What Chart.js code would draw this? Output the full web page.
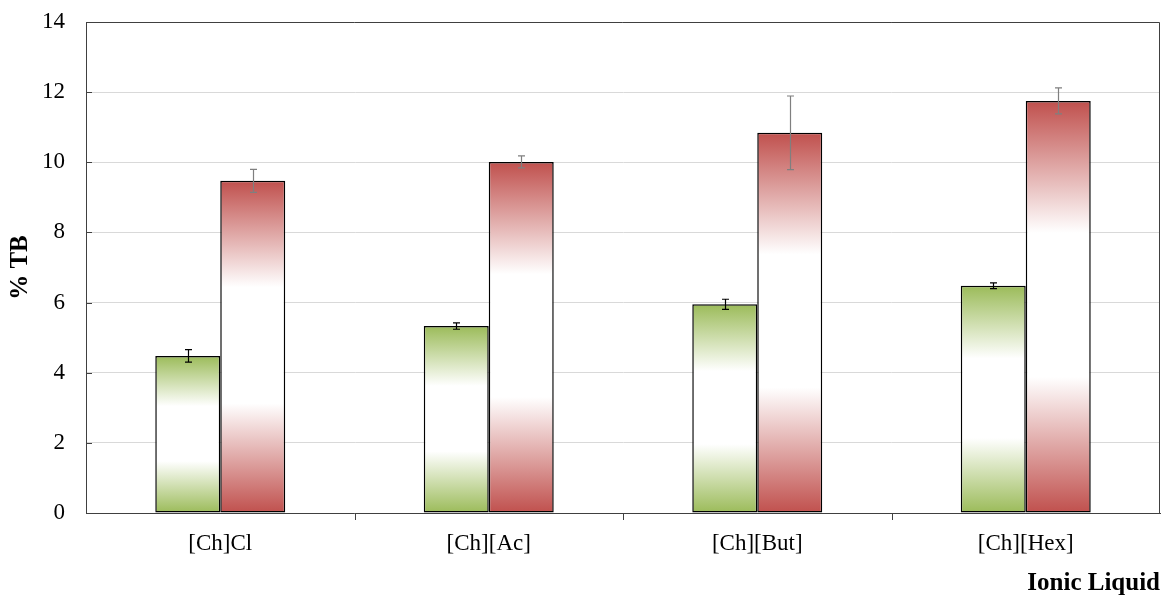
<!DOCTYPE html>
<html>
<head>
<meta charset="utf-8">
<script src="https://cdn.jsdelivr.net/npm/chart.js@4.4.0/dist/chart.umd.min.js"></script>
<style>
  html, body { margin: 0; padding: 0; background: #fff; }
  #wrap { width: 1168px; height: 595px; position: relative; }
</style>
</head>
<body>
<div id="wrap"><canvas id="c"></canvas></div>
<script>
const categories = ['[Ch]Cl', '[Ch][Ac]', '[Ch][But]', '[Ch][Hex]'];
const greenValues = [4.48, 5.33, 5.95, 6.48];
const greenErrors = [0.18, 0.09, 0.145, 0.08];
const redValues = [9.47, 10.01, 10.84, 11.75];
const redErrors = [0.33, 0.17, 1.05, 0.37];
const yMin = 0, yMax = 14, yStep = 2;
const yTitle = '% TB';
const xTitle = 'Ionic Liquid';

const GREEN = '#9bbb59';
const RED = '#c0504d';
const SERIF = '"Liberation Serif", "Times New Roman", serif';

function barGradient(context, color) {
  const chart = context.chart;
  if (context.type !== 'data' || !chart.chartArea || !chart.scales.y) return color;
  const y = chart.scales.y;
  const top = y.getPixelForValue(context.raw);
  const base = y.getPixelForValue(0);
  if (!isFinite(top) || !isFinite(base) || top === base) return color;
  const g = chart.ctx.createLinearGradient(0, top, 0, base);
  g.addColorStop(0, color);
  g.addColorStop(0.32, '#ffffff');
  g.addColorStop(0.67, '#ffffff');
  g.addColorStop(1, color);
  return g;
}

const errorBarsPlugin = {
  id: 'errorBars',
  afterDatasetsDraw(chart) {
    const { ctx, scales } = chart;
    const errs = [greenErrors, redErrors];
    const cols = ['#000000', '#7f7f7f'];
    chart.data.datasets.forEach((ds, di) => {
      const meta = chart.getDatasetMeta(di);
      meta.data.forEach((bar, i) => {
        const v = ds.data[i], e = errs[di][i];
        const yHi = scales.y.getPixelForValue(v + e);
        const yLo = scales.y.getPixelForValue(v - e);
        const x = Math.round(bar.x) + 0.5;
        ctx.save();
        ctx.strokeStyle = cols[di];
        ctx.lineWidth = 1.2;
        ctx.beginPath();
        ctx.moveTo(x, yHi); ctx.lineTo(x, yLo);
        ctx.moveTo(x - 3.5, yHi); ctx.lineTo(x + 3.5, yHi);
        ctx.moveTo(x - 3.5, yLo); ctx.lineTo(x + 3.5, yLo);
        ctx.stroke();
        ctx.restore();
      });
    });
  }
};

const framePlugin = {
  id: 'frame',
  afterDraw(chart) {
    const { ctx, chartArea: a, scales } = chart;
    ctx.save();
    ctx.strokeStyle = '#404040';
    ctx.lineWidth = 1;
    ctx.beginPath();
    ctx.moveTo(a.left, Math.round(a.top) + 0.5);
    ctx.lineTo(Math.round(a.right) - 0.5, Math.round(a.top) + 0.5);
    ctx.lineTo(Math.round(a.right) - 0.5, a.bottom);
    ctx.stroke();
    ctx.beginPath();
    for (let v = yMin; v <= yMax; v += yStep) {
      const py = Math.round(scales.y.getPixelForValue(v)) + 0.5;
      ctx.moveTo(a.left, py); ctx.lineTo(a.left + 6, py);
    }
    const n = categories.length;
    for (let i = 0; i < n - 1; i++) {
      const px = Math.round((scales.x.getPixelForValue(i) + scales.x.getPixelForValue(i + 1)) / 2) + 0.5;
      ctx.moveTo(px, a.bottom); ctx.lineTo(px, a.bottom + 7);
    }
    ctx.stroke();
    ctx.restore();
  }
};

new Chart(document.getElementById('c'), {
  type: 'bar',
  data: {
    labels: categories,
    datasets: [
      {
        label: 'green',
        data: greenValues,
        backgroundColor: (ctx) => barGradient(ctx, GREEN),
        borderColor: '#000000',
        borderWidth: 1.5,
        borderSkipped: false
      },
      {
        label: 'red',
        data: redValues,
        backgroundColor: (ctx) => barGradient(ctx, RED),
        borderColor: '#000000',
        borderWidth: 1.5,
        borderSkipped: false
      }
    ]
  },
  options: {
    responsive: true,
    maintainAspectRatio: false,
    animation: false,
    devicePixelRatio: 1,
    layout: { padding: { top: 22, right: 8, left: 0, bottom: 0 } },
    plugins: {
      legend: { display: false },
      tooltip: { enabled: false }
    },
    datasets: {
      bar: { categoryPercentage: 0.484, barPercentage: 1.0 }
    },
    scales: {
      x: {
        afterFit: (scale) => { scale.height = 82; },
        grid: { display: false, drawTicks: false, tickLength: 0 },
        border: { display: true, color: '#404040', width: 1 },
        ticks: {
          color: '#000',
          padding: 19,
          font: { family: SERIF, size: 23, lineHeight: 1.0 }
        },
        title: {
          display: true,
          text: xTitle,
          align: 'end',
          color: '#000',
          padding: { top: 0, bottom: -1 },
          font: { family: SERIF, size: 25, weight: 'bold', lineHeight: 1.0 }
        }
      },
      y: {
        min: yMin,
        max: yMax,
        afterFit: (scale) => { scale.width = 86; scale.paddingTop = 0; scale.paddingBottom = 0; },
        ticks: {
          stepSize: yStep,
          color: '#000',
          padding: 21,
          font: { family: SERIF, size: 23, lineHeight: 1.0 }
        },
        grid: { color: '#d9d9d9', lineWidth: 1, drawTicks: false, tickLength: 0 },
        border: { display: true, color: '#404040', width: 1 },
        title: {
          display: true,
          text: yTitle,
          color: '#000',
          padding: { top: 8, bottom: 0 },
          font: { family: SERIF, size: 25, weight: 'bold', lineHeight: 1.0 }
        }
      }
    }
  },
  plugins: [errorBarsPlugin, framePlugin]
});
</script>
</body>
</html>
